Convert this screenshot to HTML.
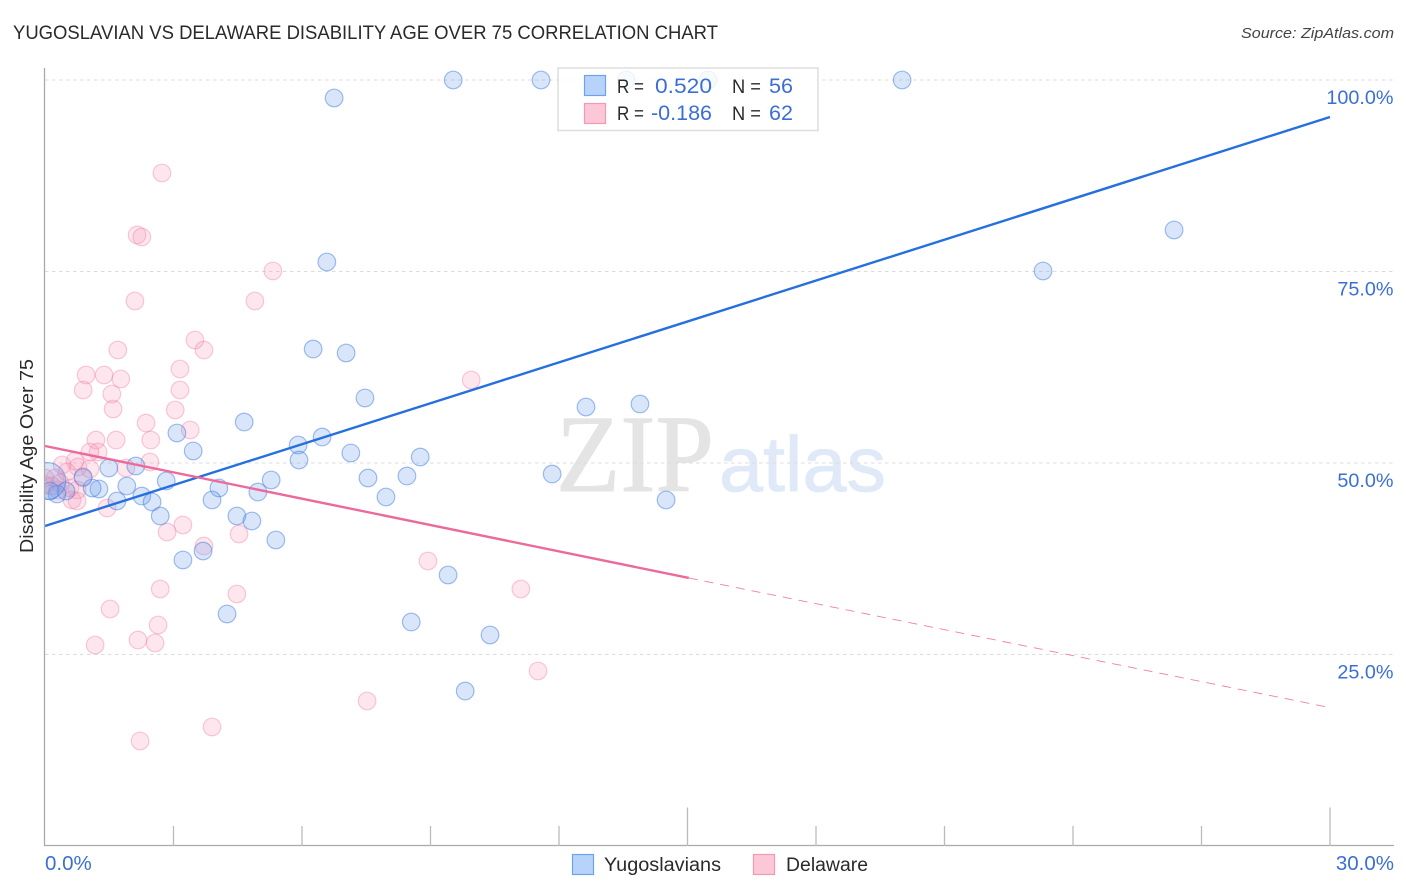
<!DOCTYPE html>
<html lang="en">
<head>
<meta charset="utf-8">
<title>Yugoslavian vs Delaware Disability Age Over 75 Correlation Chart</title>
<style>
html,body{margin:0;padding:0;background:#fff;width:1406px;height:892px;overflow:hidden}
svg{display:block;font-family:"Liberation Sans",sans-serif}
</style>
</head>
<body>
<svg id="chart" xmlns="http://www.w3.org/2000/svg" width="1406" height="892" viewBox="0 0 1406 892">
  <defs>
    <clipPath id="plot-clip"><rect x="45" y="60" width="1349" height="786"/></clipPath>
  </defs>
  <rect x="0" y="0" width="1406" height="892" fill="#ffffff"/>
  <text x="13" y="39" font-size="19" fill="#2a2a2a" textLength="705" lengthAdjust="spacingAndGlyphs">YUGOSLAVIAN VS DELAWARE DISABILITY AGE OVER 75 CORRELATION CHART</text>
  <text x="1394" y="38" font-size="15" font-style="italic" fill="#444444" text-anchor="end" textLength="153" lengthAdjust="spacingAndGlyphs">Source: ZipAtlas.com</text>
  <text x="556" y="491" font-family="'Liberation Serif',serif" font-size="110" fill="#e4e4e4" stroke="#e4e4e4" stroke-width="1" textLength="158" lengthAdjust="spacingAndGlyphs">ZIP</text>
  <text x="719" y="491" font-size="78" fill="#dfe9f8" stroke="#dfe9f8" stroke-width="0.8" textLength="167" lengthAdjust="spacingAndGlyphs">atlas</text>
  <g id="grid"></g>
  <g id="points" clip-path="url(#plot-clip)"></g>
  <g id="trends"></g>
  <g id="axes"></g>
  <text transform="translate(33,456) rotate(-90)" font-size="18" fill="#2a2a2a" text-anchor="middle" textLength="194" lengthAdjust="spacingAndGlyphs">Disability Age Over 75</text>
  <g>
    <rect x="558" y="68" width="260" height="62.5" fill="#ffffff" fill-opacity="0.82" stroke="#dddddd" stroke-width="1.5"/>
    <rect x="584.5" y="75.5" width="21" height="20" fill="#b8d3f9" stroke="#6da3e8" stroke-width="1.2"/>
    <rect x="584.5" y="103.5" width="21" height="20" fill="#fcc7d6" stroke="#f19ab5" stroke-width="1.2"/>
    <text x="617" y="93" font-size="19" fill="#2a2a2a" textLength="27" lengthAdjust="spacingAndGlyphs">R =</text>
    <text x="655" y="93" font-size="21.5" fill="#3b6fd4" textLength="57" lengthAdjust="spacingAndGlyphs">0.520</text>
    <text x="732" y="93" font-size="19" fill="#2a2a2a" textLength="29" lengthAdjust="spacingAndGlyphs">N =</text>
    <text x="769" y="93" font-size="21.5" fill="#3b6fd4" textLength="24" lengthAdjust="spacingAndGlyphs">56</text>
    <text x="617" y="120" font-size="19" fill="#2a2a2a" textLength="27" lengthAdjust="spacingAndGlyphs">R =</text>
    <text x="651" y="120" font-size="21.5" fill="#3b6fd4" textLength="61" lengthAdjust="spacingAndGlyphs">-0.186</text>
    <text x="732" y="120" font-size="19" fill="#2a2a2a" textLength="29" lengthAdjust="spacingAndGlyphs">N =</text>
    <text x="769" y="120" font-size="21.5" fill="#3b6fd4" textLength="24" lengthAdjust="spacingAndGlyphs">62</text>
  </g>
  <g>
    <rect x="572.5" y="854.5" width="21" height="20" fill="#b8d3f9" stroke="#6da3e8" stroke-width="1.2"/>
    <text x="604" y="871" font-size="19" fill="#2a2a2a" textLength="117" lengthAdjust="spacingAndGlyphs">Yugoslavians</text>
  </g>
  <g>
    <rect x="753.5" y="854.5" width="21" height="20" fill="#fcc7d6" stroke="#f19ab5" stroke-width="1.2"/>
    <text x="786" y="871" font-size="19" fill="#2a2a2a" textLength="82" lengthAdjust="spacingAndGlyphs">Delaware</text>
  </g>
</svg>
<script>
// Chart data (x = percent along horizontal axis, y = disability age over 75 percent)
var yTickValues = [25, 50, 75, 100];
var yTickLabels = ['25.0%', '50.0%', '75.0%', '100.0%'];
var xEndValues = [0, 30];
var xEndLabels = ['0.0%', '30.0%'];
var xMinorTicks = [3, 6, 9, 12, 18, 21, 24, 27];
var xMajorTicks = [15, 30];

var yugoslavianX = [6.75,9.53,11.58,13.57,15.48,20.01,26.36,23.30,6.58,6.26,7.03,7.47,4.65,3.08,3.46,5.91,6.47,5.93,7.14,8.76,8.45,7.54,7.96,11.84,12.63,13.89,14.50,5.28,4.97,4.06,3.90,2.83,2.12,1.49,1.91,2.26,2.50,1.68,1.26,1.10,0.89,2.69,4.48,4.83,5.39,3.22,3.69,9.41,4.25,8.55,10.39,9.81,0.49,0.28,0.12];
var yugoslavianY = [97.65,100,100,100,100,100,80.42,75.07,76.24,64.88,64.36,58.49,55.35,53.92,51.57,52.35,53.39,50.39,51.31,50.78,48.30,48.04,45.56,48.56,57.31,57.70,45.17,47.78,46.21,46.74,45.17,47.65,49.61,49.35,47.00,45.69,44.91,45.04,46.61,46.74,48.17,43.08,43.08,42.43,39.95,37.34,38.51,35.38,30.29,29.24,27.55,20.23,46.34,45.95,46.34];
var yugoslavianLargeX = [0.05];
var yugoslavianLargeY = [47.65];

var delawareX = [2.73,2.15,2.26,5.32,2.10,4.90,3.50,3.71,1.70,3.15,0.96,1.38,1.77,9.95,0.89,3.15,1.56,1.59,3.04,2.36,3.39,1.19,1.66,2.47,1.24,1.05,0.70,0.40,0.77,1.05,0.51,1.89,2.45,0.23,0.89,0.35,0.00,0.16,0.58,0.75,0.63,0.75,1.45,3.22,2.85,4.53,3.71,8.94,2.69,4.48,11.11,1.52,2.64,2.17,2.57,1.17,11.51,7.52,3.90,2.22,0.00,0.30];
var delawareY = [87.86,79.77,79.50,75.07,71.15,71.15,66.06,64.75,64.75,62.27,61.49,61.49,60.97,60.84,59.53,59.53,59.01,57.05,56.92,55.22,54.31,53.00,53.00,53.00,51.44,51.44,50.26,49.74,49.48,49.22,48.83,49.35,50.13,48.04,48.04,47.39,48.04,47.00,46.74,46.48,45.17,45.04,44.13,41.91,40.99,40.73,39.16,37.21,33.55,32.90,33.55,30.94,28.85,26.89,26.50,26.24,22.85,18.93,15.54,13.71,47.13,46.48];

var yugoslavianTrendX = [0, 30];
var yugoslavianTrendY = [41.78, 95.17];
var delawareTrendSolidX = [0, 15.03];
var delawareTrendSolidY = [52.22, 34.99];
var delawareTrendDashedX = [15.03, 29.93];
var delawareTrendDashedY = [34.99, 18.15];

// Axis functions
function xScale(v) { return 45 + v * (1285 / 30); }
function yScale(v) { return 846 - v * 7.66; }

var NS = 'http://www.w3.org/2000/svg';
function make(parent, tag, attrs) {
  var el = document.createElementNS(NS, tag);
  for (var k in attrs) { el.setAttribute(k, attrs[k]); }
  parent.appendChild(el);
  return el;
}

var gridG = document.getElementById('grid');
var pointsG = document.getElementById('points');
var trendsG = document.getElementById('trends');
var axesG = document.getElementById('axes');

yTickValues.forEach(function (v, i) {
  var line = make(gridG, 'line', {x1: 45, x2: 1394, y1: yScale(v), y2: yScale(v), stroke: '#dcdcdc', 'stroke-width': 1, 'stroke-dasharray': '3.5 3.5'});
  
  
  var label = make(axesG, 'text', {x: 1393.5, y: yScale(v) + 24, 'font-size': 19.8, fill: '#3b6fd4', 'text-anchor': 'end'});
  label.textContent = yTickLabels[i];
  
  
});

var yAxisLine = make(axesG, 'line', {x1: 44.5, x2: 44.5, y1: 68, y2: 846, stroke: '#aaaaaa', 'stroke-width': 1.3});


var xAxisLine = make(axesG, 'line', {x1: 44, x2: 1394, y1: 845.5, y2: 845.5, stroke: '#aaaaaa', 'stroke-width': 1.3});



xMinorTicks.forEach(function (v) {
  var t = make(axesG, 'line', {x1: xScale(v), x2: xScale(v), y1: 826, y2: 846, stroke: '#bbbbbb', 'stroke-width': 1.3});
  
  
});
xMajorTicks.forEach(function (v) {
  var t = make(axesG, 'line', {x1: xScale(v), x2: xScale(v), y1: 807.5, y2: 846, stroke: '#bbbbbb', 'stroke-width': 1.3});
  
  
});
xEndValues.forEach(function (v, i) {
  var anchor = i === 0 ? 'start' : 'end';
  var px = i === 0 ? xScale(v) : xScale(v) + 64;
  var label = make(axesG, 'text', {x: px, y: 870, 'font-size': 20.5, fill: '#3b6fd4', 'text-anchor': anchor});
  label.textContent = xEndLabels[i];
  
  
});

function drawPoints(xs, ys, r, fill, stroke, name) {
  xs.forEach(function (v, i) {
    var c = make(pointsG, 'circle', {cx: xScale(v), cy: yScale(ys[i]), r: r, fill: fill, stroke: stroke, 'stroke-width': 1.2});
    
    
  });
}
drawPoints(delawareX, delawareY, 8.8, 'rgba(246,150,182,0.24)', 'rgba(240,130,168,0.42)', 'delaware-point');
drawPoints(yugoslavianX, yugoslavianY, 8.8, 'rgba(110,160,236,0.26)', 'rgba(70,125,222,0.5)', 'yugoslavian-point');
drawPoints(yugoslavianLargeX, yugoslavianLargeY, 18.5, 'rgba(110,160,236,0.26)', 'rgba(70,125,222,0.5)', 'yugoslavian-large-point');

var blueTrend = make(trendsG, 'line', {x1: xScale(yugoslavianTrendX[0]), y1: yScale(yugoslavianTrendY[0]), x2: xScale(yugoslavianTrendX[1]), y2: yScale(yugoslavianTrendY[1]), stroke: '#2670de', 'stroke-width': 2.4});


var pinkTrend = make(trendsG, 'line', {x1: xScale(delawareTrendSolidX[0]), y1: yScale(delawareTrendSolidY[0]), x2: xScale(delawareTrendSolidX[1]), y2: yScale(delawareTrendSolidY[1]), stroke: '#ec6a9b', 'stroke-width': 2.4});


var pinkDash = make(trendsG, 'line', {x1: xScale(delawareTrendDashedX[0]), y1: yScale(delawareTrendDashedY[0]), x2: xScale(delawareTrendDashedX[1]), y2: yScale(delawareTrendDashedY[1]), stroke: '#ec7fa6', 'stroke-width': 0.9, 'stroke-dasharray': '9 7'});


</script>
</body>
</html>
